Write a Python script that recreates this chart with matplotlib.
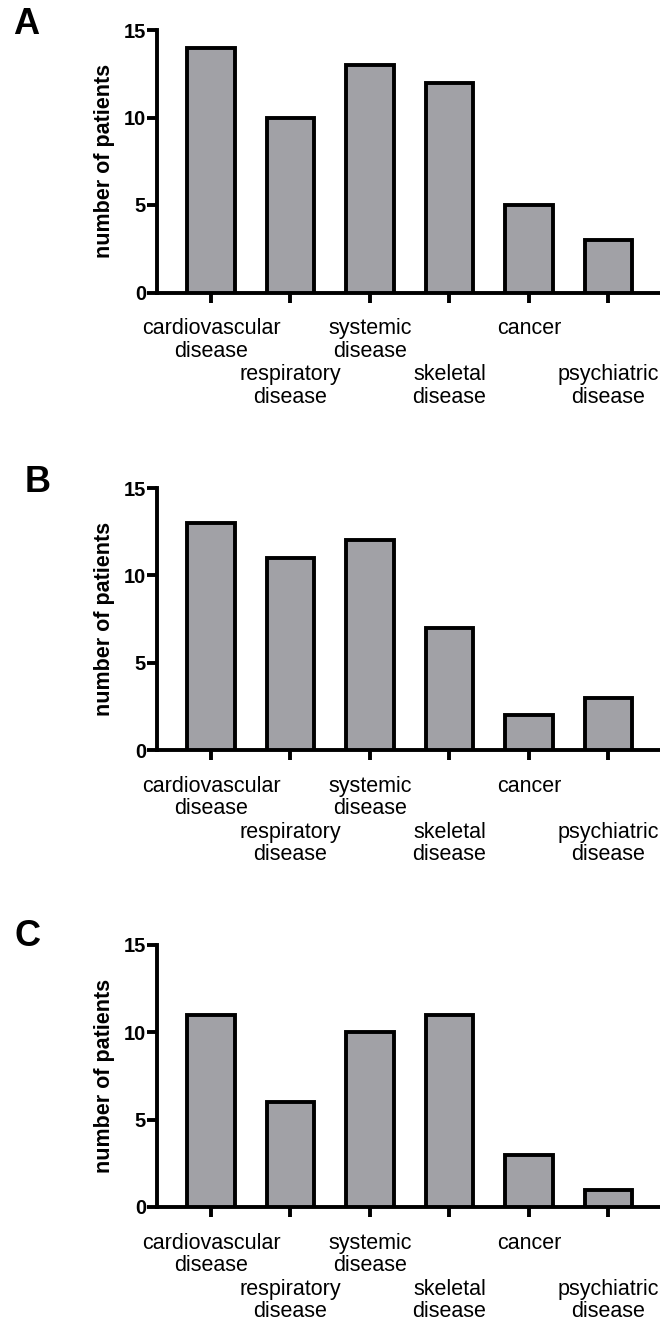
import matplotlib
matplotlib.use("Agg")
import matplotlib.pyplot as plt
import numpy as np

plt.rcParams['font.family'] = ['Liberation Sans', 'DejaVu Sans']

categories = ["cardiovascular\ndisease", "respiratory\ndisease", "systemic\ndisease",
              "skeletal\ndisease", "cancer", "psychiatric\ndisease"]
panel_letters = ["A", "B", "C"]
values_A = [14, 10, 13, 12, 5, 3]
values_B = [13, 11, 12, 7, 2, 3]
values_C = [11, 6, 10, 11, 3, 1]
yticks = [0, 5, 10, 15]

fig = plt.figure(figsize=(6.6, 13.22), dpi=100)

left = 157 / 660
width = 1 - left
panels = [
    (values_A, 30, 292.5, (26, 25)),
    (values_B, 488, 750, (38, 482)),
    (values_C, 945, 1207, (27, 937)),
]
H = 1322
lw = 2.8
for (vals, top_px, bot_px, (lx, ly)), letter in zip(panels, panel_letters):
    bottom = 1 - bot_px / H
    height = (bot_px - top_px) / H
    ax = fig.add_axes([left, bottom, width, height])
    x = np.arange(len(categories))
    ax.bar(x, vals, width=0.6, color="#a1a1a6", edgecolor="black", linewidth=lw, zorder=3)
    ax.set_xlim(-0.68, 5.65)
    ax.set_ylim(0, 15)
    ax.set_yticks(yticks)
    ax.set_yticklabels([str(t) for t in yticks], fontweight="bold", fontsize=14.5)
    ax.set_xticks(x)
    ax.set_xticklabels(categories, fontsize=15.5, va="top", linespacing=1.1)
    ax.spines["top"].set_visible(False)
    ax.spines["right"].set_visible(False)
    for s in ["left", "bottom"]:
        ax.spines[s].set_linewidth(lw)
    ax.tick_params(axis="y", length=7, width=lw, pad=1)
    ax.tick_params(axis="x", length=7.5, width=lw, pad=11)
    for i, t in enumerate(ax.xaxis.get_major_ticks()):
        if i % 2 == 1:
            t.set_pad(11 + 33)
    ax.set_ylabel("number of patients", fontweight="bold", fontsize=15.5, labelpad=6)
    fig.text(lx / 660, 1 - ly / H, letter, fontsize=26, fontweight="bold", ha="center", va="center")

fig.savefig("out.png", dpi=100)
